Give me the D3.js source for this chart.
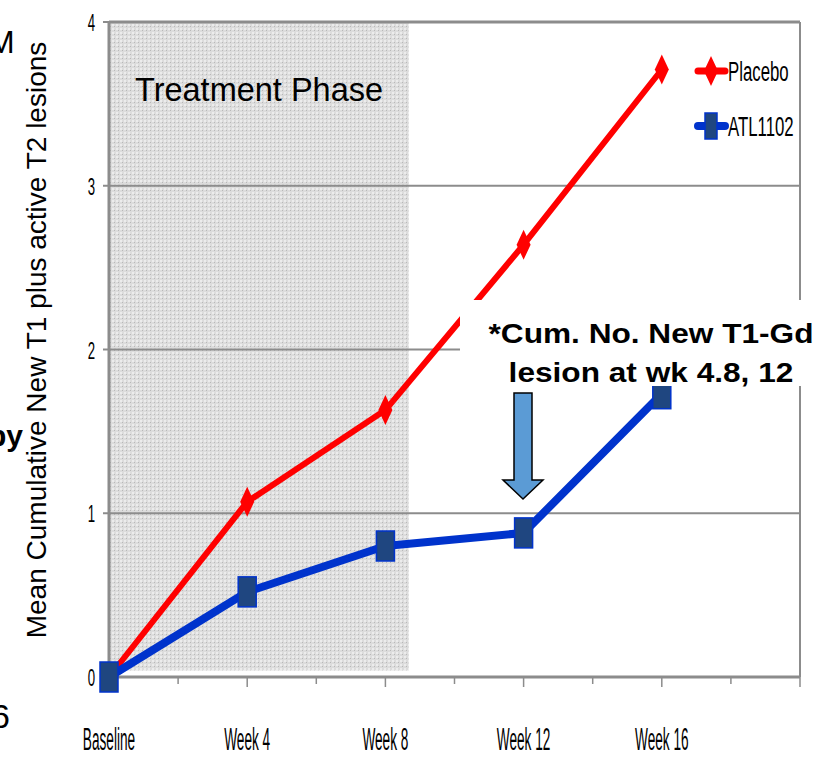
<!DOCTYPE html>
<html>
<head>
<meta charset="utf-8">
<script src="https://cdn.jsdelivr.net/npm/d3@7/dist/d3.min.js"></script>
<style>
  body { margin: 0; background: #fff; }
  text { font-family: "Liberation Sans", Arial, sans-serif; }
</style>
</head>
<body>
<div id="chart"></div>
<script>
const weeks = ["Baseline", "Week 4", "Week 8", "Week 12", "Week 16"]
const placebo = [0, 1.07, 1.63, 2.64, 3.71]
const atl1102 = [0, 0.52, 0.80, 0.88, 1.73]
const yTicks = [0, 1, 2, 3, 4]
const seriesNames = ["Placebo", "ATL1102"]

const W = 828, H = 757
const plotL = 109, plotR = 800, plotT = 22, plotB = 677

const svg = d3.select("#chart").append("svg")
  .attr("width", W).attr("height", H)

const x = d3.scaleLinear().domain([0, 5]).range([plotL, plotR])
const y = d3.scaleLinear().domain([0, 4]).range([plotB, plotT])

// dotted grey fill for the treatment phase
const defs = svg.append("defs")
const pat = defs.append("pattern")
  .attr("id", "dots").attr("width", 4).attr("height", 4)
  .attr("patternUnits", "userSpaceOnUse")
pat.append("rect").attr("width", 4).attr("height", 4).attr("fill", "#dcdcdc")
pat.append("rect").attr("width", 2).attr("height", 2).attr("fill", "#ececec")
pat.append("rect").attr("x", 2).attr("y", 2).attr("width", 1).attr("height", 1).attr("fill", "#b8b8b8")

svg.append("rect")
  .attr("x", x(0)).attr("y", y(4))
  .attr("width", x(2.17) - x(0)).attr("height", y(0.04) - y(4))
  .attr("fill", "url(#dots)")

// gridlines
svg.append("g").selectAll("line").data(yTicks.filter(d => d > 0)).enter()
  .append("line")
  .attr("x1", x(0)).attr("x2", x(5))
  .attr("y1", d => y(d)).attr("y2", d => y(d))
  .attr("stroke", "#8c8c8c").attr("stroke-width", d => d == 4 ? 3 : 2)

// right border
svg.append("line")
  .attr("x1", x(5)).attr("x2", x(5)).attr("y1", y(4)).attr("y2", y(0))
  .attr("stroke", "#8c8c8c").attr("stroke-width", 2)

// axes
svg.append("line")
  .attr("x1", x(0)).attr("x2", x(5)).attr("y1", y(0)).attr("y2", y(0))
  .attr("stroke", "#8c8c8c").attr("stroke-width", 3)
svg.append("line")
  .attr("x1", x(0)).attr("x2", x(0)).attr("y1", y(4) - 1).attr("y2", y(0))
  .attr("stroke", "#8c8c8c").attr("stroke-width", 3)

// y ticks
svg.append("g").selectAll("line").data(yTicks).enter()
  .append("line")
  .attr("x1", x(0) - 6).attr("x2", x(0))
  .attr("y1", d => y(d)).attr("y2", d => y(d))
  .attr("stroke", "#8c8c8c").attr("stroke-width", 2)

// x ticks (every half category)
svg.append("g").selectAll("line").data(d3.range(1, 11).map(d => d / 2)).enter()
  .append("line")
  .attr("x1", d => x(d)).attr("x2", d => x(d))
  .attr("y1", y(0)).attr("y2", d => y(0) + (d % 1 == 0 ? 10 : 7))
  .attr("stroke", "#8c8c8c").attr("stroke-width", 1.5)

function narrow(g, px, py, str, size, sx, anchor) {
  return g.append("text")
    .attr("transform", `translate(${px},${py}) scale(${sx},1)`)
    .attr("text-anchor", anchor)
    .attr("font-size", size)
    .attr("fill", "#000")
    .text(str)
}

yTicks.forEach(d => narrow(svg, 95, y(d) + 9, d, 24, 0.55, "end"))
weeks.forEach((w, i) => narrow(svg, x(i), 750, w, 31, 0.44, "middle"))

// treatment phase label
svg.append("text")
  .attr("x", 135).attr("y", 101)
  .attr("font-size", 32.5)
  .text("Treatment Phase")

// lines
const line = d3.line().x((d, i) => x(i)).y(d => y(d))
svg.append("path").datum(placebo)
  .attr("d", line).attr("fill", "none")
  .attr("stroke", "#ff0000").attr("stroke-width", 6).attr("stroke-linejoin", "round")
svg.append("path").datum(atl1102)
  .attr("d", line).attr("fill", "none")
  .attr("stroke", "#0033cc").attr("stroke-width", 8).attr("stroke-linejoin", "round")

const diamond = "M0,-15 L7,0 L0,15 L-7,0 Z"
svg.append("g").selectAll("path").data(placebo).enter()
  .append("path")
  .attr("d", diamond)
  .attr("transform", (d, i) => `translate(${x(i)},${y(d)})`)
  .attr("fill", "#ff0000")

svg.append("g").selectAll("rect").data(atl1102).enter()
  .append("rect")
  .attr("x", (d, i) => x(i) - 9).attr("y", d => y(d) - 15)
  .attr("width", 18).attr("height", 30)
  .attr("fill", "#1f4680").attr("stroke", "#0033cc").attr("stroke-width", 1.5)

// legend
const leg = svg.append("g")
seriesNames.forEach((name, i) => {
  const ly = 71 + i * 55
  if (i == 0) {
    leg.append("line").attr("x1", 698).attr("x2", 725).attr("y1", ly).attr("y2", ly)
      .attr("stroke", "#ff0000").attr("stroke-width", 7).attr("stroke-linecap", "round")
    leg.append("path").attr("d", diamond).attr("transform", `translate(711,${ly})`).attr("fill", "#ff0000")
  } else {
    leg.append("line").attr("x1", 698).attr("x2", 725).attr("y1", ly).attr("y2", ly)
      .attr("stroke", "#0033cc").attr("stroke-width", 8).attr("stroke-linecap", "round")
    leg.append("rect").attr("x", 705).attr("y", ly - 13).attr("width", 12).attr("height", 26)
      .attr("fill", "#1f4680").attr("stroke", "#0033cc").attr("stroke-width", 1.5)
  }
  narrow(leg, 728, ly + 10, name, 28, 0.6, "start")
})

// annotation
svg.append("rect").attr("x", 460).attr("y", 300).attr("width", 368).attr("height", 86).attr("fill", "#fff")
const ann = svg.append("g").attr("transform", "translate(651,0) scale(1.13,1)")
  .append("text").attr("text-anchor", "middle").attr("font-size", 28).attr("font-weight", "bold")
ann.append("tspan").attr("x", 0).attr("y", 343).text("*Cum. No. New T1-Gd")
ann.append("tspan").attr("x", 0).attr("y", 382).text("lesion at wk 4.8, 12")

svg.append("path")
  .attr("d", "M514,393 H532 V480 H543 L523,499 L503,480 H514 Z")
  .attr("fill", "#5b9bd5").attr("stroke", "#000").attr("stroke-width", 1.5)

// y axis title
svg.append("text")
  .attr("transform", "translate(46,340) rotate(-90)")
  .attr("text-anchor", "middle").attr("font-size", 28)
  .text("Mean Cumulative New T1 plus active T2 lesions")

// cut-off slide text at left edge
svg.append("text").attr("x", -12).attr("y", 53).attr("font-size", 32).text("M")
svg.append("text").attr("x", -12).attr("y", 446).attr("font-size", 30).attr("font-weight", "bold").text("by")
svg.append("text").attr("x", -9).attr("y", 728).attr("font-size", 34).text("6")
</script>
</body>
</html>
